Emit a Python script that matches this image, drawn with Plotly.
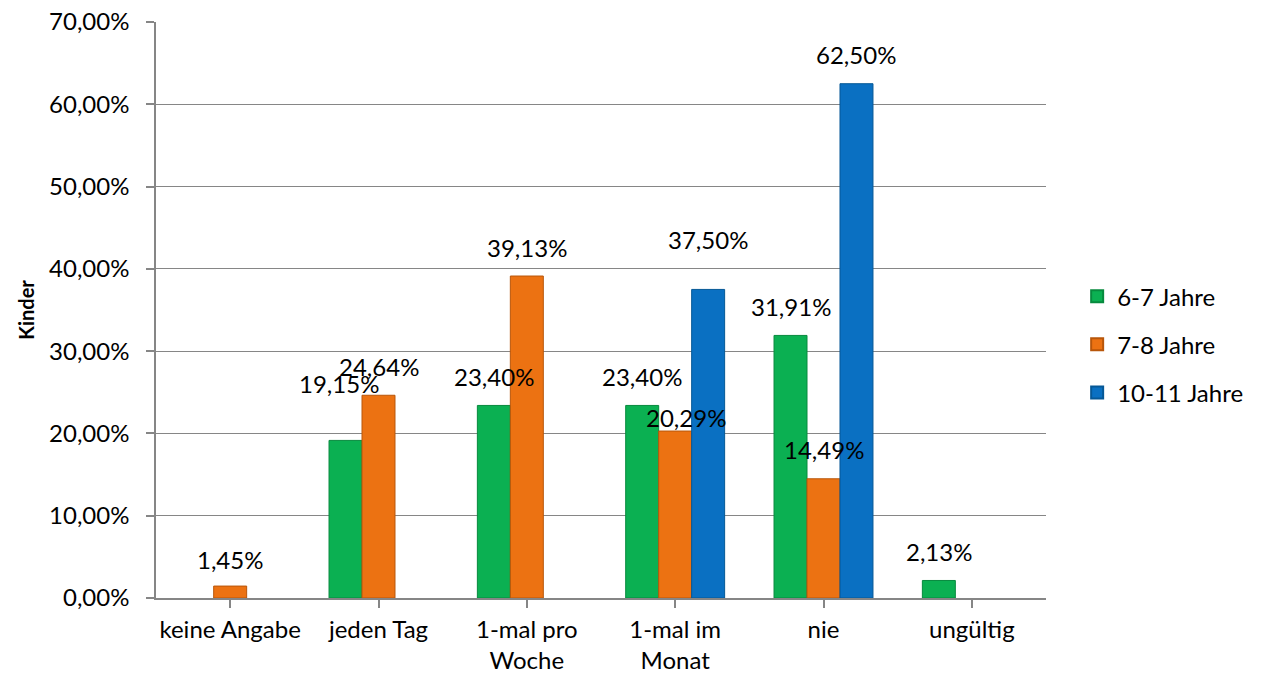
import plotly.graph_objects as go

categories = ["keine Angabe", "jeden Tag", "1-mal pro<br>Woche", "1-mal im<br>Monat", "nie", "ungültig"]
series_names = ["6-7 Jahre", "7-8 Jahre", "10-11 Jahre"]
vals_6_7 = [None, 19.15, 23.40, 23.40, 31.91, 2.13]
vals_7_8 = [1.45, 24.64, 39.13, 20.29, 14.49, None]
vals_10_11 = [None, None, None, 37.50, 62.50, None]
y_ticks = [0, 10, 20, 30, 40, 50, 60, 70]
y_tick_labels = [f"{t:.2f}".replace(".", ",") + "%" for t in y_ticks]

series_values = [vals_6_7, vals_7_8, vals_10_11]
colors = ["#0BB052", "#EC7212", "#0A70C2"]
line_colors = ["#078A3E", "#B8560A", "#065896"]

FONT = "Lato, 'Open Sans', sans-serif"
BARGAP = 0.333
n_series = 3
bar_w = (1 - BARGAP) / n_series

# label nudges (pixels) for a few labels that were moved in the original
label_nudge = {(0, 1): (-7, 28), (1, 3): (11, -15), (2, 3): (0, 21), (1, 0): (0, -2)}

fig = go.Figure()
for i, (name, vals) in enumerate(zip(series_names, series_values)):
    fig.add_trace(go.Bar(
        name=name, x=list(range(len(categories))), y=vals,
        marker=dict(color=colors[i], line=dict(color=line_colors[i], width=1)),
        legendgroup=name,
    ))

annotations = []
for i, vals in enumerate(series_values):
    for j, v in enumerate(vals):
        if v is None:
            continue
        dx, dy = label_nudge.get((i, j), (0, 0))
        annotations.append(dict(
            x=j + (i - (n_series - 1) / 2) * bar_w, y=v, xref="x", yref="y",
            text=f"{v:.2f}".replace(".", ",") + "%",
            showarrow=False, yanchor="middle", xanchor="center",
            xshift=dx, yshift=29 + dy,
            font=dict(family=FONT, size=24, color="#000000"),
        ))

fig.update_layout(
    width=1252, height=661,
    margin=dict(l=148, r=187, t=14, b=71),
    paper_bgcolor="white", plot_bgcolor="white",
    barmode="group", bargap=BARGAP, bargroupgap=0,
    separators=",.",
    font=dict(family=FONT, size=24, color="#000000"),
    annotations=annotations,
    legend=dict(x=1.035, xanchor="left", y=0.44, yanchor="middle",
                font=dict(family=FONT, size=24, color="#000000"),
                tracegroupgap=14, itemsizing="constant"),
    showlegend=True,
)
fig.update_xaxes(
    tickmode="array", tickvals=list(range(len(categories))), ticktext=categories,
    range=[-0.5, len(categories) - 0.5], automargin=False,
    showline=True, linecolor="#868686", linewidth=1.5,
    ticks="outside", ticklen=8, tickcolor="#868686", tickwidth=1.5,
    tickson="boundaries", showgrid=False, zeroline=False,
    ticklabelstandoff=1,
    tickfont=dict(family=FONT, size=24, color="#000000"),
)
fig.update_yaxes(
    range=[0, 70], tickmode="array", tickvals=y_ticks, ticktext=y_tick_labels,
    automargin=False, ticklabeloverflow="allow",
    showline=True, linecolor="#868686", linewidth=1.5,
    ticks="outside", ticklen=8, tickcolor="#868686", tickwidth=1.5,
    showgrid=True, gridcolor="#868686", gridwidth=1.2, zeroline=False,
    ticklabelstandoff=12,
    tickfont=dict(family=FONT, size=24, color="#000000"),
    title=dict(text="<b>Kinder</b>", font=dict(family=FONT, size=20, color="#000000"), standoff=9),
)

fig.write_html("out.html")
